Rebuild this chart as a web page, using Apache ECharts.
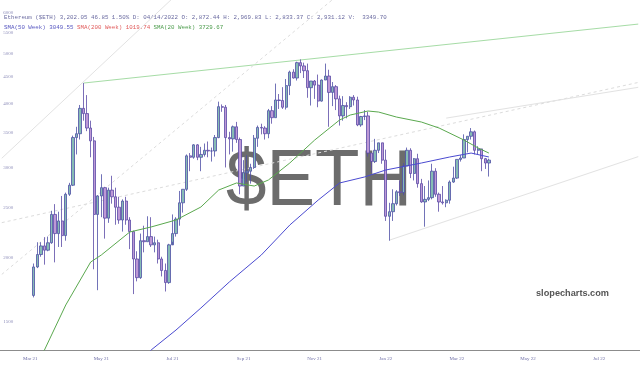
<!DOCTYPE html>
<html><head><meta charset="utf-8">
<script src="https://cdn.jsdelivr.net/npm/echarts@6/dist/echarts.min.js"></script>
<style>html,body{margin:0;padding:0;background:#fff}#c{width:640px;height:365px}</style>
</head><body><div id="c"></div>
<script>
// 3-day buckets starting 2021-03-02
const bucketStart = '2021-03-02';
const bucketDays = 3;
const bucketCount = 180;
const firstCandle = 9;
// [open, close, low, high] per 3-day bucket, from Mar 29 2021 to Apr 19 2022
const candles = [
[1690,1920,1675,1950],[1920,2030,1910,2145],[2030,2110,2010,2145],[2110,2070,1940,2195],
[2070,2140,2060,2200],[2140,2430,2130,2470],[2430,2230,1960,2545],[2230,2360,2100,2460],
[2360,2210,2100,2640],[2210,2660,2160,2680],[2660,2770,2640,2800],[2770,3430,2760,3460],
[3430,3490,3180,3600],[3490,3910,3400,3970],[3910,3820,3700,4380],[3820,3580,3530,4150],
[3580,3380,3140,3700],[3380,2430,1900,3440],[2430,2640,1730,2650],[2640,2740,2400,2910],
[2740,2390,2180,2750],[2390,2710,2340,2740],[2710,2630,2550,2890],[2630,2510,2320,2740],
[2510,2370,2330,2630],[2370,2580,2250,2600],[2580,2370,2320,2630],[2370,2250,2080,2400],
[2250,1990,1700,2260],[1990,1830,1800,2060],[1830,2160,1820,2230],[2160,2150,2050,2310],
[2150,2200,2150,2410],[2200,2120,2100,2400],[2120,2140,2050,2200],[2140,1990,1950,2170],
[1990,1890,1840,2010],[1890,1790,1720,1950],[1790,2120,1780,2130],[2120,2230,2150,2430],
[2230,2380,2200,2400],[2380,2560,2310,2700],[2560,2720,2450,2720],[2720,3160,2700,3180],
[3160,3140,2950,3200],[3140,3320,3120,3330],[3320,3140,3100,3330],[3140,3180,2950,3290],
[3180,3240,3150,3340],[3240,3230,3140,3370],[3230,3230,3080,3280],[3230,3430,3150,3470],
[3430,3940,3420,4030],[3940,3930,3850,3980],[3930,3430,3000,3970],[3430,3410,3180,3520],
[3410,3600,3220,3620],[3600,3400,3350,3680],[3400,2760,2660,3430],[2760,2930,2760,3100],
[2930,2950,2810,3170],[2950,3000,2790,3050],[3000,3420,2980,3470],[3420,3590,3290,3620],
[3590,3580,3480,3650],[3580,3490,3400,3610],[3490,3870,3420,3900],[3870,3750,3650,3950],
[3750,4060,3750,4370],[4060,4050,3900,4170],[4050,3930,3900,4300],[3930,4330,3890,4460],
[4330,4600,4150,4630],[4600,4480,4470,4660],[4480,4800,4430,4820],[4800,4730,4580,4870],
[4730,4630,4480,4800],[4630,4290,4100,4780],[4290,4420,3960,4420],[4420,4340,4080,4440],
[4340,4040,3930,4550],[4040,4440,4030,4450],[4440,4520,4440,4780],[4520,4200,3600,4650],
[4200,4310,3950,4400],[4310,4080,3880,4340],[4080,3780,3620,4140],[3780,3960,3700,4130],
[3960,3940,3740,4020],[3940,4110,3900,4130],[4110,4060,3960,4150],[4060,3630,3610,4120],
[3630,3770,3600,3780],[3770,3780,3710,3880],[3780,3200,3150,3850],[3200,3080,2930,3200],
[3080,3240,3060,3410],[3240,3350,3200,3350],[3350,3100,3050,3350],[3100,2410,2360,3250],
[2410,2460,2160,2560],[2460,2550,2360,2720],[2550,2690,2530,2710],[2690,2680,2640,2830],
[2680,3020,2650,3060],[3020,3240,3020,3280],[3240,2920,2860,3270],[2920,3120,2830,3130],
[3120,2790,2740,3190],[2790,2570,2560,2850],[2570,2600,2300,2760],[2600,2620,2580,2830],
[2620,2950,2600,3050],[2950,2660,2630,2990],[2660,2570,2460,2680],[2570,2560,2540,2760],
[2560,2590,2510,2600],[2590,2810,2550,2830],[2810,2860,2800,3010],[2860,3110,2850,3110],
[3110,3130,3080,3170],[3130,3400,3130,3480],[3400,3450,3210,3450],[3450,3520,3400,3580],
[3520,3240,3180,3540],[3240,3260,3180,3300],[3260,3120,2950,3260],[3120,3060,2980,3130],
[3060,3100,2880,3120]
];
// SMA(20 Week) line, [bucket index, value]
const smaGreen = [[11,1300],[12,1323],[18,1619],[25,1963],[28,2026],[36,2246],[42,2297],[49,2370],
[56,2512],[61,2711],[66,2798],[71,2760],[75,2836],[81,3060],[88,3392],[95,3711],[98,3795],
[103,3864],[106,3846],[111,3761],[118,3678],[123,3580],[130,3392],[134,3273],[137,3200]];
// SMA(50 Week) line
const smaBlue = [[41,1300],[42,1323],[49,1447],[56,1597],[64,1795],[73,2026],[81,2317],[89,2592],
[95,2798],[102,2874],[108,2966],[118,3060],[126,3144],[132,3200],[137,3144]];
// trend lines [[idx,value],[idx,value]]
const trendPeaks = [[23,4380],[179,5706]];
const trendA = [[0,3126],[48,6400]];
const trendB = [[0,2342],[179,4392]];
const trendC = [[0,1857],[93,6366]];
const trendD = [[109,2165],[179,3149]];
const trendE = [[125,3743],[179,4297]];
const yTickValues = [1500,2000,2500,3000,3500,4000,4500,5000,5500,6000];
const xTickLabels = ['Mar 21','May 21','Jul 21','Sep 21','Nov 21','Jan 22','Mar 22','May 22','Jul 22'];
const xTickFirst = 8, xTickStep = 20;

const cats = [];
const d0 = new Date(bucketStart + 'T00:00:00Z');
for (let i = 0; i < bucketCount; i++) {
  const d = new Date(d0.getTime() + i * bucketDays * 86400000);
  cats.push(d.toISOString().slice(0, 10));
}
const candleData = [];
for (let i = 0; i < bucketCount; i++) {
  const k = i - firstCandle;
  candleData.push(k >= 0 && k < candles.length ? candles[k] : '-');
}
function trend(data, c, t) {
  return { type: 'line', data, symbol: 'none', silent: true, lineStyle: { color: c, width: 1, type: t || 'solid' }, z: 1 };
}
const chart = echarts.init(document.getElementById('c'));
chart.setOption({
  animation: false,
  backgroundColor: '#fff',
  grid: { left: 0, right: 0, top: 0, bottom: 15 },
  xAxis: {
    type: 'category', data: cats, boundaryGap: true,
    axisLine: { lineStyle: { color: '#8c8c8c', width: 1 } },
    axisTick: { show: false },
    axisLabel: {
      interval: (i) => i >= xTickFirst && (i - xTickFirst) % xTickStep === 0,
      formatter: (v, i) => xTickLabels[(i - xTickFirst) / xTickStep] || '',
      fontSize: 5, color: '#7070a8', fontFamily: 'Liberation Serif', margin: 6
    },
    splitLine: { show: false }
  },
  yAxis: {
    type: 'log', logBase: 10, min: 1323, max: 6357,
    axisLine: { show: false }, axisTick: { show: false }, axisLabel: { show: false },
    splitLine: { show: false }
  },
  series: [
    trend(trendPeaks, '#a6dca6'),
    trend(trendA, '#e2e2e2'),
    trend(trendB, '#dcdcdc', [3, 3]),
    trend(trendC, '#dcdcdc', [3, 3]),
    trend(trendD, '#e2e2e2'),
    trend(trendE, '#e2e2e2'),
    { type: 'line', data: smaGreen, symbol: 'none', lineStyle: { color: '#5aa84e', width: 1 }, z: 3 },
    { type: 'line', data: smaBlue, symbol: 'none', lineStyle: { color: '#4a4ad0', width: 1 }, z: 3 },
    {
      type: 'candlestick', data: candleData, barWidth: 2.8, z: 2,
      itemStyle: { color: '#86bcb4', color0: '#bd98d6', borderColor: '#4e4fa6', borderColor0: '#5a4aa6', borderWidth: 0.8 }
    },
    {
      type: 'scatter', data: yTickValues.map(v => [0, v]), symbolSize: 1, itemStyle: { color: 'rgba(0,0,0,0)' },
      label: { show: true, position: 'right', distance: 1, formatter: p => String(p.value[1]), fontSize: 5, color: '#7070a8', fontFamily: 'Liberation Serif' },
      silent: true, z: 5
    }
  ],
  graphic: [
    { type: 'text', x: 226, y: 143, scaleX: 0.91, z: -10, silent: true,
      style: { text: '$ETH', font: '80px "Liberation Sans"', fill: '#6c6c6c' } },
    { type: 'text', left: 536, top: 289, silent: true,
      style: { text: 'slopecharts.com', font: 'bold 9.2px "Liberation Sans"', fill: '#555' } },
    { type: 'text', left: 4, top: 14, silent: true,
      style: { text: 'Ethereum ($ETH) 3,202.05 46.85 1.50% D: 04/14/2022 O: 2,872.44 H: 2,969.83 L: 2,833.37 C: 2,931.12 V:  3349.70',
        font: '5.8px "Liberation Mono"', fill: '#6a6aa0' } },
    { type: 'text', left: 4, top: 24, silent: true,
      style: { text: '{b|SMA(50 Week) 3049.55} {r|SMA(200 Week) 1019.74} {g|SMA(20 Week) 3729.67}',
        font: '5.8px "Liberation Mono"',
        rich: { b: { fill: '#5656c0', font: '5.8px "Liberation Mono"' }, r: { fill: '#e05a5a', font: '5.8px "Liberation Mono"' }, g: { fill: '#4c9c4c', font: '5.8px "Liberation Mono"' } } } }
  ]
});
</script></body></html>
